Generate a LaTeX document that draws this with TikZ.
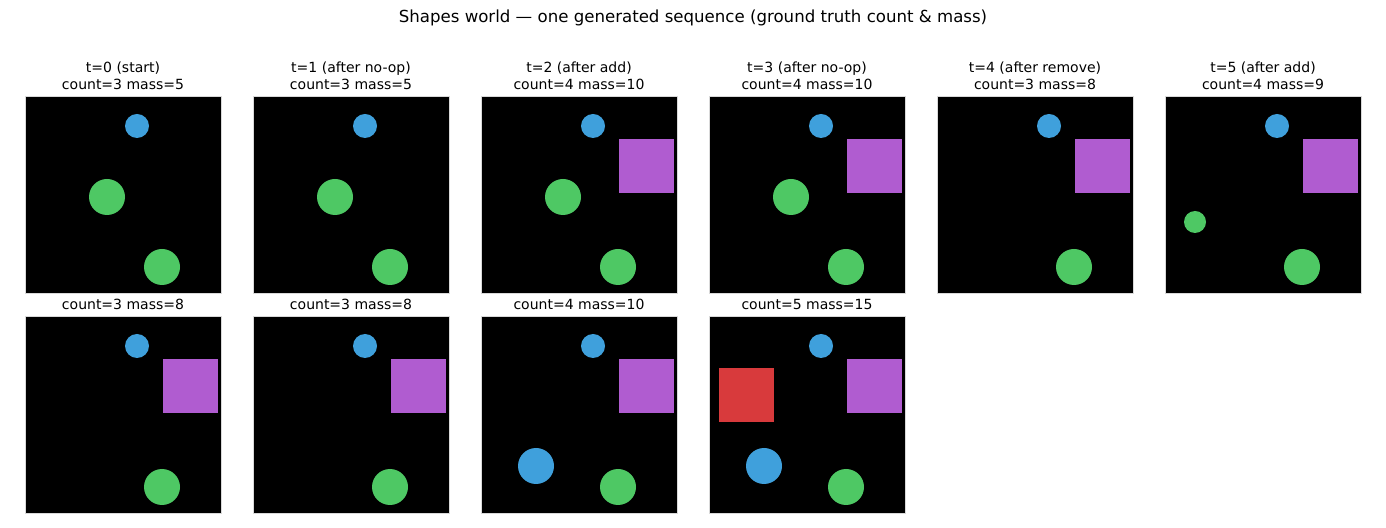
\documentclass[tikz,border=0pt]{standalone}
\usepackage{fontspec}
\setmainfont{DejaVu Sans}
\begin{document}
\begin{tikzpicture}[x=0.5pt, y=-0.5pt,
	panel/.style={fill=black, draw=black!15, line width=0.4pt},
	lbl/.style={font=\fontsize{7}{8.4}\selectfont, align=center, inner sep=0pt},
	blueb/.style={fill=cyan!60!blue!60!white, draw=none},
	greenb/.style={fill=green!60!black!70!white, draw=none}]
	\definecolor{ballblue}{HTML}{3FA0DC}
	\definecolor{ballgreen}{HTML}{4EC864}
	\definecolor{sqpurple}{HTML}{B05CD0}
	\definecolor{sqred}{HTML}{D83A3C}
	\useasboundingbox (0,0) rectangle (1386,528);
	\node[font=\fontsize{8.3}{10}\selectfont, inner sep=0pt] (ttl) at (693,18) {Shapes world --- one generated sequence (ground truth count \& mass)};

	% panels: x, y, id, label, square, small green, blue big, red
	\foreach \px/\py/\id/\txt/\sq/\sg/\bb/\rd in {
		25/96/p0/{t=0  (start)\\count=3  mass=5}/0/0/0/0,
		253/96/p1/{t=1  (after no-op)\\count=3  mass=5}/0/0/0/0,
		481/96/p2/{t=2  (after add)\\count=4  mass=10}/1/0/0/0,
		709/96/p3/{t=3  (after no-op)\\count=4  mass=10}/1/0/0/0,
		937/96/p4/{t=4  (after remove)\\count=3  mass=8}/1/0/0/0,
		1165/96/p5/{t=5  (after add)\\count=4  mass=9}/1/1/0/0,
		25/316/p6/{count=3  mass=8}/1/0/0/0,
		253/316/p7/{count=3  mass=8}/1/0/0/0,
		481/316/p8/{count=4  mass=10}/1/0/1/0,
		709/316/p9/{count=5  mass=15}/1/0/1/1}{
		\begin{scope}[shift={(\px,\py)}]
			\draw[panel] (0,0) rectangle (196,197);
			\node[lbl, anchor=south] (\id) at (98,-6) {\txt};
			\fill[ballblue] (112,30) circle (12);
			\fill[ballgreen] (137,171) circle (18);
			\ifnum\py=96 \ifnum\sq=0 \fill[ballgreen] (82,101) circle (18); \fi
				\ifnum\px=481 \fill[ballgreen] (82,101) circle (18); \fi
				\ifnum\px=709 \fill[ballgreen] (82,101) circle (18); \fi
			\fi
			\ifnum\sq=1 \fill[sqpurple] (138,43) rectangle (193,97); \fi
			\ifnum\sg=1 \fill[ballgreen] (30,126) circle (11); \fi
			\ifnum\bb=1 \fill[ballblue] (55,150) circle (18); \fi
			\ifnum\rd=1 \fill[sqred] (10,52) rectangle (65,106); \fi
		\end{scope}
	}
\end{tikzpicture}
\end{document}
